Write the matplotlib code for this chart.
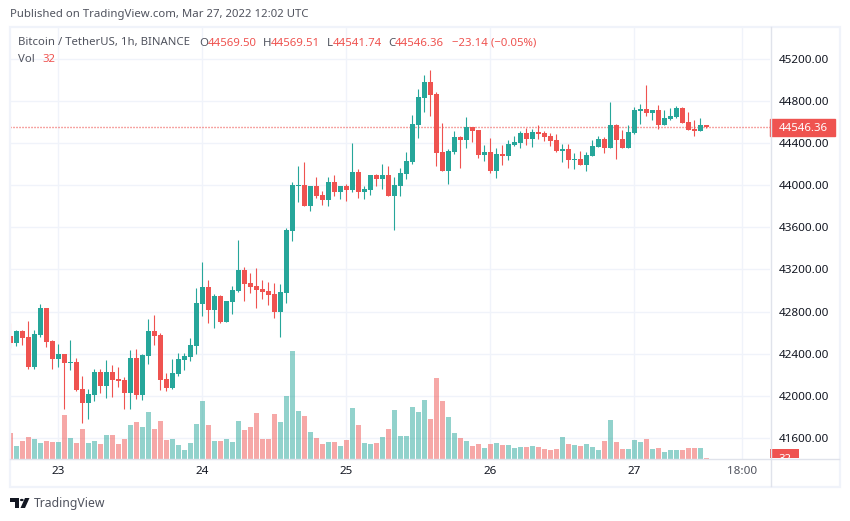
import numpy as np
import matplotlib
matplotlib.use("Agg")
import matplotlib.pyplot as plt
from matplotlib.patches import Rectangle, Polygon, Circle

plt.rcParams["font.family"] = ["Noto Sans", "DejaVu Sans"]

UP = "#26a69a"
DOWN = "#ef5350"
GRID = "#f0f3fa"
SEP = "#e0e3eb"

# hourly candles, Mar 22 16:00 -> Mar 27 12:00
opens = [42569, 42506, 42617, 42560, 42278, 42579, 42835, 42522, 42354, 42398, 42313, 42323, 42067, 41937, 42013, 42228, 42098, 42228, 42161, 42152,
         42032, 42361, 42013, 42383, 42617, 42579, 42161, 42079, 42212, 42345, 42373, 42477, 42876, 43034, 42819, 42948, 42705, 42891, 42996, 43195,
         43072, 43043, 43015, 42996, 42967, 42800, 42980, 43565, 43992, 44001, 43802, 43992, 43906, 43859, 44029, 43935, 43992, 43954, 44124, 43935,
         43954, 44096, 44058, 44096, 43897, 43992, 44105, 44219, 44570, 44826, 44977, 44864, 44314, 44134, 44314, 44456, 44428, 44551, 44522, 44285,
         44313, 44133, 44294, 44276, 44380, 44399, 44494, 44437, 44503, 44494, 44465, 44427, 44323, 44342, 44238, 44247, 44190, 44276, 44361, 44437,
         44351, 44569, 44437, 44351, 44494, 44702, 44721, 44683, 44712, 44569, 44626, 44645, 44731, 44598, 44531, 44513, 44569.50]
highs = [42689, 42626, 42626, 42711, 42626, 42872, 42835, 42531, 42493, 42398, 42531, 42361, 42190, 42067, 42256, 42256, 42342, 42294, 42275, 42180,
         42436, 42446, 42398, 42730, 42768, 42598, 42218, 42351, 42408, 42408, 42550, 43024, 43271, 43100, 42967, 42958, 42901, 43043, 43479, 43223,
         43166, 43214, 43100, 43081, 43072, 43062, 43593, 44029, 44181, 44219, 43992, 44077, 43944, 44077, 44096, 43992, 44010, 44399, 44153, 43992,
         44096, 44105, 44200, 44181, 44077, 44162, 44314, 44665, 44911, 45044, 45091, 44883, 44589, 44342, 44513, 44466, 44646, 44551, 44522, 44380,
         44446, 44351, 44380, 44427, 44465, 44513, 44541, 44531, 44569, 44513, 44494, 44484, 44389, 44389, 44304, 44323, 44313, 44427, 44465, 44456,
         44787, 44579, 44522, 44569, 44740, 44768, 44949, 44712, 44759, 44712, 44731, 44750, 44740, 44693, 44617, 44636, 44569.51]
lows = [42459, 42477, 42484, 42259, 42259, 42563, 42465, 42259, 42278, 41880, 42250, 42048, 41748, 41785, 41953, 42032, 41985, 41994, 42086, 41880,
        41880, 41972, 41962, 42307, 42484, 42057, 42048, 42067, 42193, 42250, 42335, 42402, 42759, 42692, 42645, 42692, 42705, 42781, 42986, 42901,
        42977, 42835, 42920, 42863, 42740, 42563, 42882, 43470, 43840, 43802, 43755, 43878, 43811, 43802, 43897, 43868, 43849, 43935, 43878, 43868,
        43906, 43992, 43963, 43897, 43574, 43897, 44058, 44200, 44447, 44693, 44655, 44181, 44134, 44010, 44295, 44162, 44352, 44409, 44257, 44229,
        44114, 44067, 44190, 44238, 44370, 44351, 44380, 44361, 44437, 44418, 44370, 44313, 44219, 44162, 44152, 44190, 44133, 44276, 44361, 44304,
        44351, 44247, 44351, 44351, 44484, 44579, 44655, 44617, 44531, 44569, 44617, 44636, 44588, 44522, 44465, 44513, 44541.74]
closes = [42506, 42617, 42553, 42278, 42588, 42835, 42515, 42354, 42398, 42316, 42323, 42057, 41937, 42019, 42228, 42098, 42228, 42155, 42143, 42032,
          42361, 42013, 42389, 42617, 42569, 42155, 42079, 42218, 42351, 42383, 42484, 42882, 43034, 42819, 42948, 42705, 42901, 43005, 43195, 43065,
          43037, 43005, 42986, 42958, 42800, 42986, 43574, 44001, 44001, 43802, 43992, 43897, 43859, 44029, 43935, 43992, 43954, 44124, 43935, 43963,
          44096, 44058, 44096, 43897, 44001, 44115, 44229, 44579, 44835, 44977, 44854, 44304, 44134, 44323, 44456, 44428, 44551, 44513, 44285, 44314,
          44133, 44294, 44276, 44389, 44408, 44494, 44437, 44503, 44484, 44456, 44418, 44323, 44342, 44238, 44247, 44190, 44285, 44370, 44437, 44351,
          44569, 44427, 44351, 44503, 44712, 44721, 44683, 44712, 44569, 44636, 44655, 44731, 44588, 44522, 44513, 44569, 44546.36]
volumes = [624, 312, 432, 528, 480, 384, 432, 408, 408, 1056, 504, 384, 720, 384, 432, 360, 576, 576, 360, 480,
           816, 888, 768, 1128, 720, 912, 456, 480, 336, 216, 384, 840, 1392, 816, 432, 432, 480, 408, 912, 696,
           768, 1104, 480, 480, 1080, 888, 1512, 2592, 1152, 1032, 648, 504, 360, 408, 408, 312, 456, 1224, 816, 384,
           360, 384, 528, 720, 1176, 552, 552, 1248, 1128, 1416, 960, 1944, 1392, 1008, 624, 504, 432, 312, 360, 264,
           360, 384, 336, 336, 264, 288, 288, 312, 288, 240, 216, 240, 528, 360, 336, 312, 360, 288, 216, 432,
           936, 408, 240, 240, 456, 408, 480, 240, 264, 168, 216, 216, 216, 264, 264, 264, 32]

price_ticks = [41600, 42000, 42400, 42800, 43200, 43600, 44000, 44400, 44800, 45200]
time_ticks = [8, 32, 56, 80, 104, 122]
time_labels = ["23", "24", "25", "26", "27", "18:00"]

W, H = 850, 521
FS = 8.2


def fx(px):
    return px / W


def fy(px):
    return 1 - px / H


def label(x, y, s, color="#131722", size=FS, **kw):
    fig.text(fx(x), fy(y), s, color=color, fontsize=size, va="center", **kw)


opens = np.array(opens)
highs = np.array(highs)
lows = np.array(lows)
closes = np.array(closes)
volumes = np.array(volumes)
idx = np.arange(len(opens))
colors = np.where(closes >= opens, UP, DOWN)

fig = plt.figure(figsize=(W / 100, H / 100), dpi=100)

# plot area is x 10..770, y 27..459 in pixels
ax = fig.add_axes([fx(10), fy(459), 760 / W, 432 / H])
ax.set_xlim(-0.05, 126.6)
ax.set_ylim(41403, 45499)

# volume on its own scale, same baseline (twinx moves the main ticks left, so do it first)
ax2 = ax.twinx()
ax2.set_ylim(0, 10368)
ax2.bar(idx, volumes, width=0.83, color=colors, alpha=0.5)
ax2.axis("off")

ax.set_axisbelow(True)
ax.grid(True, color=GRID, lw=1)
ax.set_xticks(time_ticks)
ax.set_xticklabels(time_labels)
ax.set_yticks(price_ticks)
ax.set_yticklabels([f"{p:.2f}" for p in price_ticks])
ax.yaxis.tick_right()
ax.tick_params(axis="both", length=0, labelcolor="#131722", labelsize=8.4)
ax.tick_params(axis="y", pad=6.5)
ax.tick_params(axis="x", pad=5)
ax.get_xticklabels()[-1].set_color("#50535e")
for s in ax.spines.values():
    s.set_visible(False)

# last price line
ax.axhline(closes[-1], color=DOWN, lw=1, ls=(0, (0.75, 1.41)), zorder=1.5)

# candles
ax.vlines(idx, lows, highs, color=colors, lw=0.8, zorder=2)
ax.bar(idx, np.maximum(np.abs(closes - opens), 12), bottom=np.minimum(opens, closes),
       width=0.83, color=colors, zorder=3)

# frame and separators
fig.add_artist(Rectangle((fx(9.5), fy(486.5)), 830 / W, 460 / H, transform=fig.transFigure,
                         fill=False, ec=GRID, lw=1.6))
fig.add_artist(plt.Line2D([fx(770.5)] * 2, [fy(27), fy(486)], color=SEP, lw=1))
fig.add_artist(plt.Line2D([fx(10), fx(839)], [fy(458.7)] * 2, color=SEP, lw=1))

# last price tag
ax.add_patch(Rectangle((1.0, closes[-1] - 85), 65 / 760, 165, transform=ax.get_yaxis_transform(),
                       color=DOWN, clip_on=False, zorder=5))
ax.text(1 + 9 / 760, closes[-1] - 5, f"{closes[-1]:.2f}", transform=ax.get_yaxis_transform(),
        color="white", fontsize=FS, fontweight="bold", va="center", zorder=6)

# volume tag, cut off by the time scale
tag = fig.add_axes([fx(770), fy(458), 29 / W, 9 / H], facecolor=DOWN)
tag.set_xticks([])
tag.set_yticks([])
for s in tag.spines.values():
    s.set_visible(False)
tag.text(0.5, -0.15, str(volumes[-1]), transform=tag.transAxes, color="white", fontsize=FS,
         fontweight="bold", ha="center", va="center", clip_on=True)

# header texts
label(10, 15, "Published on TradingView.com, Mar 27, 2022 12:02 UTC", color="#50535e")
label(18, 43, "Bitcoin / TetherUS, 1h, BINANCE", color="#50535e")
for x, s in [(199, "O"), (263, "H"), (326.5, "L"), (388, "C")]:
    label(x, 43, s, color="#50535e")
for x, s in [(208, f"{opens[-1]:.2f}"), (271, f"{highs[-1]:.2f}"), (333, f"{lows[-1]:.2f}"), (395, f"{closes[-1]:.2f}"),
             (452, "−23.14 (−0.05%)")]:
    label(x, 43, s, color=DOWN)
label(18, 59, "Vol", color="#50535e")
label(42, 59, str(volumes[-1]), color=DOWN)

# logo
logo = "#131722"
fig.add_artist(Polygon([(fx(10), fy(498)), (fx(19), fy(498)), (fx(19), fy(508)), (fx(15), fy(508)),
                        (fx(15), fy(502)), (fx(10), fy(502))], transform=fig.transFigure, fc=logo, ec="none"))
fig.add_artist(Polygon([(fx(25), fy(498)), (fx(29.5), fy(498)), (fx(25), fy(508)), (fx(20.5), fy(508))],
                       transform=fig.transFigure, fc=logo, ec="none"))
fig.add_artist(Circle((fx(21.8), fy(500)), 1.9 / W, transform=fig.transFigure, fc=logo, ec="none"))
label(34, 503, "TradingView", color="#50535e", size=8.8)

fig.savefig("out.png", dpi=100)
